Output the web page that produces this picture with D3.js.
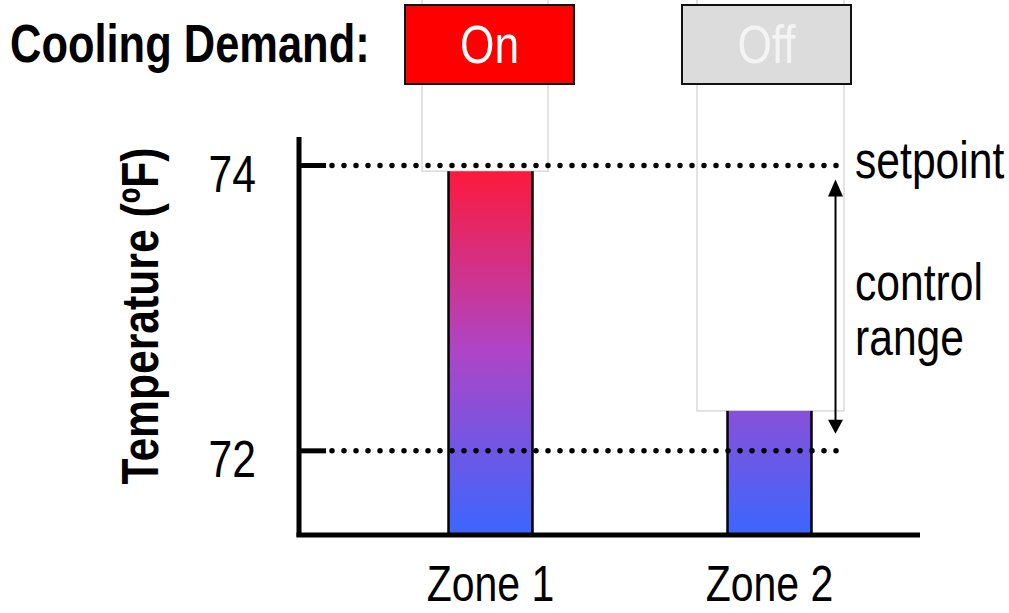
<!DOCTYPE html>
<html>
<head>
<meta charset="utf-8">
<script src="https://cdn.jsdelivr.net/npm/d3@7"></script>
<style>
  html, body { margin: 0; padding: 0; background: #fff; }
  svg { display: block; }
</style>
</head>
<body>
<div id="chart"></div>
<script>
// chart values
var zones = ['Zone 1', 'Zone 2'];
var zoneTemps = [73.96, 72.28];
var demand = ['On', 'Off'];
var yTicks = [72, 74];
var setpoint = 74;
var rangeLow = 72;

var W = 1009, H = 613;
var font = '"Liberation Sans", Arial, sans-serif';
var squeeze = 0.82; // no narrow font installed, so compress horizontally

var svg = d3.select('#chart').append('svg')
  .attr('width', W)
  .attr('height', H)
  .style('font-family', font);

// place a text at (x, y) with the narrow look
function narrowText(parent, x, y, txt, size, extra) {
  return parent.append('text')
    .attr('transform', 'translate(' + x + ',' + y + ')' + (extra || '') + ' scale(' + squeeze + ',1)')
    .style('font-size', size + 'px')
    .text(txt);
}

// scales
var y = d3.scaleLinear().domain([71.41, 74.2]).range([535, 137]);
var x = d3.scalePoint().domain(zones).range([490.5, 769.5]);
var barW = 84;

// gradient along the temperature scale (blue = cold, red = setpoint)
var defs = svg.append('defs');
var grad = defs.append('linearGradient')
  .attr('id', 'tempGrad')
  .attr('gradientUnits', 'userSpaceOnUse')
  .attr('x1', 0).attr('x2', 0)
  .attr('y1', y(71.41)).attr('y2', y(74));
grad.append('stop').attr('offset', '0%').attr('stop-color', '#3b66ff');
grad.append('stop').attr('offset', '50%').attr('stop-color', '#ae45c6');
grad.append('stop').attr('offset', '100%').attr('stop-color', '#ff1838');

// ghost boxes above bars
var ghost = [{ dx: -68.5, w: 126 }, { dx: -72.5, w: 147 }];
svg.append('g').selectAll('rect')
  .data(zones)
  .enter()
  .append('rect')
  .attr('x', (d, i) => x(d) + ghost[i].dx)
  .attr('y', -10)
  .attr('width', (d, i) => ghost[i].w)
  .attr('height', (d, i) => y(zoneTemps[i]) + 10)
  .attr('fill', 'none')
  .attr('stroke', '#dcdcdc')
  .attr('stroke-width', 1.6);

// bars
var bars = svg.append('g').selectAll('g')
  .data(zones)
  .enter()
  .append('g');

bars.append('rect')
  .attr('x', d => x(d) - barW / 2)
  .attr('y', (d, i) => y(zoneTemps[i]))
  .attr('width', barW)
  .attr('height', (d, i) => y.range()[0] - y(zoneTemps[i]))
  .attr('fill', 'url(#tempGrad)');

bars.selectAll('line')
  .data((d, i) => [
    { x: x(d) - barW / 2, t: zoneTemps[i] },
    { x: x(d) + barW / 2, t: zoneTemps[i] }
  ])
  .enter()
  .append('line')
  .attr('x1', d => d.x).attr('x2', d => d.x)
  .attr('y1', d => y(d.t)).attr('y2', y.range()[0])
  .attr('stroke', '#000')
  .attr('stroke-width', 2.5);

// dotted reference lines
svg.append('g').selectAll('line')
  .data([setpoint, rangeLow])
  .enter()
  .append('line')
  .attr('x1', 332).attr('x2', 846)
  .attr('y1', d => y(d)).attr('y2', d => y(d))
  .attr('stroke', '#000')
  .attr('stroke-width', 5.5)
  .attr('stroke-linecap', 'round')
  .attr('stroke-dasharray', '0 12');

// axes
var plot = svg.append('g');
plot.append('line')
  .attr('x1', 299).attr('x2', 299)
  .attr('y1', y.range()[1]).attr('y2', y.range()[0] + 2)
  .attr('stroke', '#000').attr('stroke-width', 5);
plot.append('line')
  .attr('x1', 296.5).attr('x2', 920)
  .attr('y1', y.range()[0]).attr('y2', y.range()[0])
  .attr('stroke', '#000').attr('stroke-width', 5);

var ticks = plot.selectAll('.tick')
  .data(yTicks)
  .enter()
  .append('g')
  .attr('class', 'tick')
  .attr('transform', d => 'translate(0,' + y(d) + ')');
ticks.append('line')
  .attr('x1', 301).attr('x2', 326)
  .attr('stroke', '#000').attr('stroke-width', 5);
ticks.each(function (d) {
  narrowText(d3.select(this), 256, 26, d, 52).attr('text-anchor', 'end');
});

// axis title
narrowText(svg, 158, 316, 'Temperature (ºF)', 52, ' rotate(-90)')
  .attr('text-anchor', 'middle')
  .style('font-weight', 'bold');

// zone labels
zones.forEach(function (z) {
  narrowText(svg, x(z), 601, z, 50).attr('text-anchor', 'middle');
});

// cooling demand header
narrowText(svg, 10, 62, 'Cooling Demand:', 53).style('font-weight', 'bold');

var btnW = 169;
var btns = svg.append('g').selectAll('g')
  .data(demand)
  .enter()
  .append('g')
  .attr('transform', (d, i) => 'translate(' + (x(zones[i]) - 1 - (i * 2)) + ',0)');
btns.append('rect')
  .attr('x', -btnW / 2)
  .attr('y', 5)
  .attr('width', btnW)
  .attr('height', 79)
  .attr('fill', d => d === 'On' ? '#ff0000' : '#dcdcdc')
  .attr('stroke', '#111')
  .attr('stroke-width', 2);
btns.each(function (d) {
  narrowText(d3.select(this), 0, 63, d, 54)
    .attr('text-anchor', 'middle')
    .attr('fill', d === 'On' ? '#ffffff' : '#f4f4f4');
});

// control range annotation
var ann = svg.append('g');
ann.append('line')
  .attr('x1', 835.5).attr('x2', 835.5)
  .attr('y1', y(setpoint) + 28).attr('y2', y(rangeLow) - 28)
  .attr('stroke', '#000').attr('stroke-width', 2);
ann.append('path')
  .attr('d', d3.line()([[835.5, y(setpoint) + 14], [828, y(setpoint) + 31], [843, y(setpoint) + 31]]) + 'Z')
  .attr('fill', '#000');
ann.append('path')
  .attr('d', d3.line()([[835.5, y(rangeLow) - 17], [828, y(rangeLow) - 31], [843, y(rangeLow) - 31]]) + 'Z')
  .attr('fill', '#000');

narrowText(ann, 855, 178, 'setpoint', 52);
narrowText(ann, 855, 300, 'control', 52);
narrowText(ann, 855, 355, 'range', 52);
</script>
</body>
</html>
